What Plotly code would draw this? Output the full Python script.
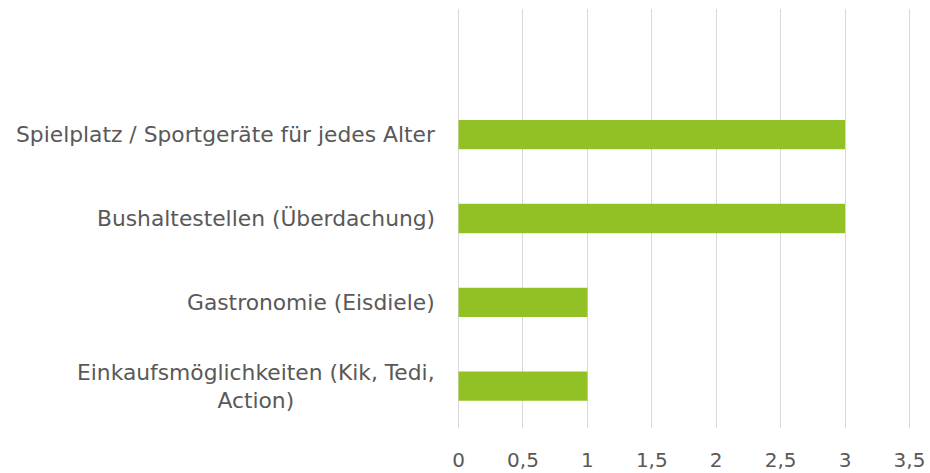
import plotly.graph_objects as go

categories = [
    "Einkaufsmöglichkeiten (Kik, Tedi, Action)",
    "Gastronomie (Eisdiele)",
    "Bushaltestellen (Überdachung)",
    "Spielplatz / Sportgeräte für jedes Alter",
]
label_text = [
    "Einkaufsmöglichkeiten (Kik, Tedi,<br>Action)",
    "Gastronomie (Eisdiele)",
    "Bushaltestellen (Überdachung)",
    "Spielplatz / Sportgeräte für jedes Alter",
]
values = [1, 1, 3, 3]
x_ticks = [0, 0.5, 1, 1.5, 2, 2.5, 3, 3.5]

FONT = "DejaVu Sans"
TXT = "#595959"

fig = go.Figure(go.Bar(
    y=categories, x=values, orientation="h",
    marker=dict(color="#92C126", line=dict(width=0)),
    width=0.35,
))

annotations = [
    dict(x=0, xref="paper", y=c, yref="y", text=t, showarrow=False,
         xanchor="right", yanchor="middle", align="center", xshift=-20,
         font=dict(family=FONT, size=21.8, color=TXT))
    for c, t in zip(categories, label_text)
]

fig.update_layout(
    width=930, height=473,
    margin=dict(l=457, r=19, t=9, b=45),
    plot_bgcolor="white", paper_bgcolor="white",
    separators=", ",
    showlegend=False,
    annotations=annotations,
)
fig.update_xaxes(
    range=[-0.012, 3.512], tickvals=x_ticks, showgrid=True, gridcolor="#d9d9d9",
    gridwidth=1.3, zeroline=False, showline=False, automargin=False,
    ticks="outside", ticklen=14, tickcolor="rgba(0,0,0,0)",
    tickfont=dict(family=FONT, size=20, color=TXT),
)
fig.update_yaxes(
    type="category", categoryorder="array", categoryarray=categories,
    range=[-0.5, 4.5], showticklabels=False, showgrid=False, zeroline=False,
    automargin=False,
)

fig.write_html(
    "out.html",
    config={"displayModeBar": False},
    post_script="document.body.style.margin='0';document.body.style.overflow='hidden';",
)
